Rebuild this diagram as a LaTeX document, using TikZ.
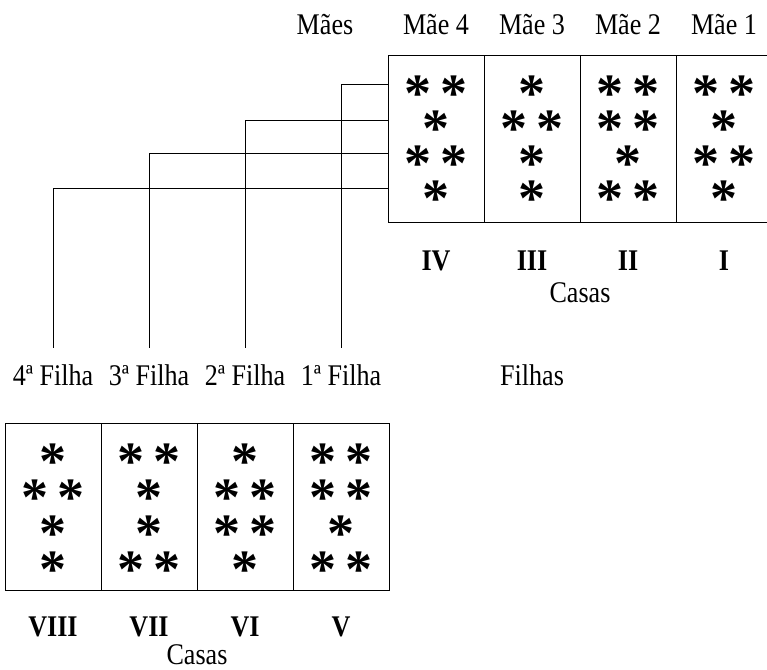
\documentclass[tikz,border=0pt]{standalone}
\usepackage{fontspec}
\setmainfont{Liberation Serif}[FakeStretch=0.87]
\newfontfamily\starfont{Liberation Serif}
\usetikzlibrary{positioning}

\begin{document}
\begin{tikzpicture}[
        x=1pt, y=-1pt,
        cell/.style={draw, line width=0.8pt, minimum width=96pt, minimum height=167pt, inner sep=0pt, outer sep=0pt},
        txt/.style={font=\fontsize{30}{32}\selectfont, inner sep=0pt, anchor=base},
        numeral/.style={txt, font=\fontsize{30}{32}\selectfont\bfseries},
        aster/.style={font=\starfont\bfseries\fontsize{54}{54}\selectfont, inner sep=0pt, anchor=base, yshift=-27pt},
        link/.style={line width=0.8pt}
    ]
        \useasboundingbox (0,0) rectangle (767,669);

        % maes
        \node[cell, anchor=north west] (T4) at (388,55) {};
        \node[cell, right=0pt of T4] (T3) {};
        \node[cell, right=0pt of T3] (T2) {};
        \node[cell, right=0pt of T2] (T1) {};

        % filhas
        \node[cell, anchor=north west] (B8) at (5,423) {};
        \node[cell, right=0pt of B8] (B7) {};
        \node[cell, right=0pt of B7] (B6) {};
        \node[cell, right=0pt of B6] (B5) {};

        \foreach \x/\pat in {436/{2,1,2,1}, 532/{1,2,1,1}, 628/{2,2,1,2}, 724/{2,1,2,1}}
            \foreach \n [count=\r] in \pat
                \node[aster] (t\x-\r) at (\x,{49+35*\r}) {\ifnum\n=1 *\else*\kern9pt*\fi};
        \foreach \x/\pat in {53/{1,2,1,1}, 149/{2,1,1,2}, 245/{1,2,2,1}, 341/{2,2,1,2}}
            \foreach \n [count=\r] in \pat
                \node[aster] (b\x-\r) at (\x,{416+36*\r}) {\ifnum\n=1 *\else*\kern9pt*\fi};

        \node[txt] (maes) at (325,35) {Mães};
        \node[txt] (m4) at (436,35) {Mãe 4};
        \node[txt] (m3) at (532,35) {Mãe 3};
        \node[txt] (m2) at (628,35) {Mãe 2};
        \node[txt] (m1) at (724,35) {Mãe 1};

        \node[numeral] (IV) at (436,270) {IV};
        \node[numeral] (III) at (532,270) {III};
        \node[numeral] (II) at (628,270) {II};
        \node[numeral] (I) at (724,270) {I};
        \node[txt] (casasT) at (580,302) {Casas};

        \node[txt] (f4) at (53,385) {4ª Filha};
        \node[txt] (f3) at (149,385) {3ª Filha};
        \node[txt] (f2) at (245,385) {2ª Filha};
        \node[txt] (f1) at (341,385) {1ª Filha};
        \node[txt] (filhas) at (532,385) {Filhas};

        \node[numeral] (VIII) at (53,636) {VIII};
        \node[numeral] (VII) at (149,636) {VII};
        \node[numeral] (VI) at (245,636) {VI};
        \node[numeral] (V) at (341,636) {V};
        \node[txt] (casasB) at (197,664) {Casas};

        \coordinate (r1) at (0,84);
        \coordinate (r2) at (0,120);
        \coordinate (r3) at (0,153);
        \coordinate (r4) at (0,188);
        \coordinate (d1) at (341,348);
        \coordinate (d2) at (245,348);
        \coordinate (d3) at (149,348);
        \coordinate (d4) at (53,348);

        \draw[link] (T4.west |- r1) -| (d1);
        \draw[link] (T4.west |- r2) -| (d2);
        \draw[link] (T4.west |- r3) -| (d3);
        \draw[link] (T4.west |- r4) -| (d4);
    \end{tikzpicture}
\end{document}
